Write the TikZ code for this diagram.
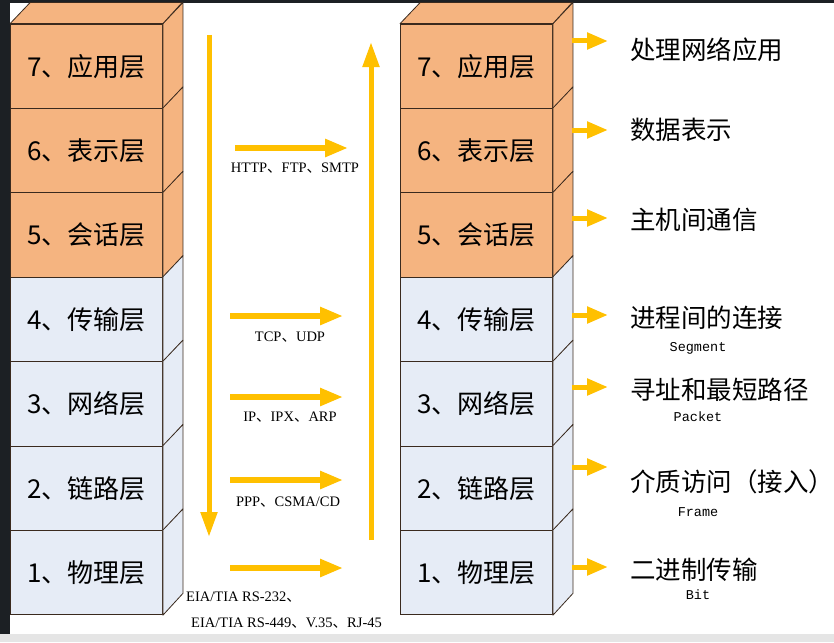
\documentclass[tikz,border=0pt]{standalone}
\usepackage{fontspec}
\newfontfamily\cjk{Noto Sans CJK SC}
\newfontfamily\tms{Liberation Serif}
\newfontfamily\cour{Liberation Mono}
\usetikzlibrary{arrows.meta,positioning}
\definecolor{osiorange}{HTML}{F5B480}
\definecolor{osiblue}{HTML}{E6ECF6}
\definecolor{osiedge}{HTML}{3A2A1E}
\definecolor{arrowgold}{HTML}{FFC000}
\definecolor{stripdark}{HTML}{1C2024}
\newcommand{\dun}{{\cjk 、}}

\begin{document}
\begin{tikzpicture}[x=1pt,y=-1pt,
  layer/.style={draw=osiedge,line width=0.8pt,minimum width=152pt,minimum height=84.4pt,
    inner sep=0pt,font=\cjk\fontsize{26}{30}\selectfont},
  face/.style={draw=osiedge,line width=0.8pt,line join=round},
  flow/.style={draw=arrowgold,line width=5.5pt,-{Triangle[length=23pt,width=17pt]}},
  vflow/.style={draw=arrowgold,line width=5pt,-{Triangle[length=25pt,width=16pt]}},
  sideflow/.style={draw=arrowgold,line width=5pt,-{Triangle[length=21pt,width=16pt]}},
  proto/.style={inner sep=0pt,font=\tms\fontsize{14.5}{17}\selectfont},
  duty/.style={inner sep=0pt,anchor=west,font=\cjk\fontsize{25.5}{30}\selectfont},
  unit/.style={inner sep=0pt,font=\cour\fontsize{13.5}{15}\selectfont}]

  \useasboundingbox (0,0) rectangle (834,642);
  \fill[white] (0,0) rectangle (834,642);
  \fill[stripdark] (0,0) rectangle (10,634); % linke Kante
  \fill[stripdark] (0,0) rectangle (834,3);
  \fill[black!10] (0,634) rectangle (834,642);

  % two stacks of layers
  \foreach \i/\t/\c in {7/应用层/osiorange,6/表示层/osiorange,5/会话层/osiorange,
      4/传输层/osiblue,3/网络层/osiblue,2/链路层/osiblue,1/物理层/osiblue} {
    \node[layer,fill=\c] (L\i) at (86.5,{66.2+(7-\i)*84.4}) {\i、\t};
    \node[layer,fill=\c] (R\i) at (476.5,{66.2+(7-\i)*84.4}) {\i、\t};
    \filldraw[face,fill=\c] (L\i.north east) -- ++(20,-21) -- ++(0,84.4) -- (L\i.south east) -- cycle;
    \filldraw[face,fill=\c] (R\i.north east) -- ++(20,-21) -- ++(0,84.4) -- (R\i.south east) -- cycle;
  }
  \filldraw[face,fill=osiorange] (L7.north west) -- ++(20,-21) -- ++(152,0) -- (L7.north east) -- cycle;
  \filldraw[face,fill=osiorange] (R7.north west) -- ++(20,-21) -- ++(152,0) -- (R7.north east) -- cycle;

  % down and up
  \coordinate (dn-top) at (209,35);
  \coordinate (dn-bot) at (209,537);
  \coordinate (up-bot) at (371,540);
  \coordinate (up-top) at (371,42);
  \draw[vflow] (dn-top) -- (dn-bot);
  \draw[vflow] (up-bot) -- (up-top);

  % protocols
  \coordinate (h7-s) at (235,148); \coordinate (h7-e) at (348,148);
  \foreach \n/\y in {4/316,3/397,2/480,1/568} {
    \coordinate (h\n-s) at (230,\y);
    \coordinate (h\n-e) at (343,\y);
  }
  \foreach \n in {7,4,3,2,1}
    \draw[flow] (h\n-s) -- (h\n-e);

  \node[proto] (p7) at (295,168) {HTTP\dun FTP\dun SMTP};
  \node[proto] (p4) at (290,337) {TCP\dun UDP};
  \node[proto] (p3) at (290,417) {IP\dun IPX\dun ARP};
  \node[proto] (p2) at (288,502) {PPP\dun CSMA/CD};
  \node[proto,anchor=west] (p1a) at (186,597) {EIA/TIA RS-232\dun};
  \node[proto,anchor=west] (p1b) at (191,623) {EIA/TIA RS-449\dun V.35\dun RJ-45};

  % what each layer does
  \foreach \n/\y in {7/41,6/130,5/218,4/315,3/387,2/467,1/567} {
    \coordinate (s\n-s) at (572,\y);
    \coordinate (s\n-e) at (608,\y);
    \draw[sideflow] (s\n-s) -- (s\n-e);
  }
  \node[duty] (d7) at (630,50) {处理网络应用};
  \node[duty] (d6) at (630,130) {数据表示};
  \node[duty] (d5) at (630,220) {主机间通信};
  \node[duty] (d4) at (630,318) {进程间的连接};
  \node[duty] (d3) at (630,390) {寻址和最短路径};
  \node[duty] (d2) at (630,482) {介质访问（接入）};
  \node[duty] (d1) at (630,570) {二进制传输};
  \node[unit] (u4) at (698,348) {Segment};
  \node[unit] (u3) at (698,417) {Packet};
  \node[unit] (u2) at (698,512) {Frame};
  \node[unit] (u1) at (698,595) {Bit};

\end{tikzpicture}
\end{document}
